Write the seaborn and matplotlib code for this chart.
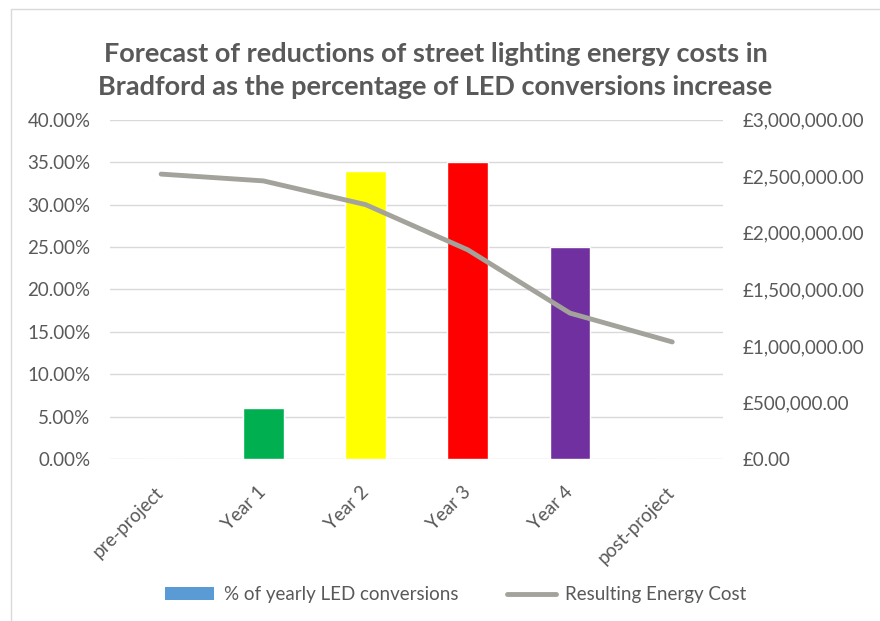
import pandas as pd
import matplotlib.pyplot as plt
import seaborn as sns
from matplotlib.patches import Patch, Rectangle
from matplotlib.lines import Line2D
from matplotlib.ticker import FuncFormatter

categories = ['pre-project', 'Year 1', 'Year 2', 'Year 3', 'Year 4', 'post-project']
led_pct = [0.0, 6.0, 34.0, 35.0, 25.0, 0.0]
energy_cost = [2520000, 2460000, 2250000, 1850000, 1290000, 1035000]
bar_colors = ['#5B9BD5', '#00B050', '#FFFF00', '#FF0000', '#7030A0', '#5B9BD5']

df = pd.DataFrame({'stage': categories, 'pct': led_pct, 'cost': energy_cost})

sns.set_style('white')
plt.rcParams['font.family'] = ['Lato', 'DejaVu Sans']
text_col = '#595959'
line_col = '#A3A39B'
fs = 13.5

fig = plt.figure(figsize=(8.8, 6.21), dpi=100)
ax = fig.add_axes([0.125, 0.261, 0.697, 0.546])

sns.barplot(data=df, x='stage', y='pct', hue='stage', palette=bar_colors,
            width=0.4, saturation=1, legend=False, ax=ax)
ax.set_ylim(0, 40)
ax.set_yticks(range(0, 41, 5))
ax.yaxis.set_major_formatter(FuncFormatter(lambda v, p: f'{v:.2f}%'))
ax.grid(axis='y', color='#D9D9D9', linewidth=1)
ax.set_axisbelow(True)
ax.set_xlabel('')
ax.set_ylabel('')
ax.set_xlim(-0.5, 5.5)
for s in ax.spines.values():
    s.set_visible(False)

ax2 = ax.twinx()
sns.lineplot(x=list(range(len(categories))), y=energy_cost, color=line_col,
             linewidth=3.5, ax=ax2)
ax2.set_ylim(0, 3000000)
ax2.set_yticks(range(0, 3000001, 500000))
ax2.yaxis.set_major_formatter(FuncFormatter(lambda v, p: f'£{v:,.2f}'))
for s in ax2.spines.values():
    s.set_visible(False)
ax2.set_xlim(-0.5, 5.5)

ax.tick_params(axis='y', length=0, labelsize=fs, labelcolor=text_col, pad=14)
ax.tick_params(axis='x', length=0, labelsize=fs, labelcolor=text_col, pad=22)
ax2.tick_params(axis='y', length=0, labelsize=fs, labelcolor=text_col, pad=14)
plt.setp(ax.get_xticklabels(), rotation=45, ha='right', va='center',
         rotation_mode='anchor')

fig.suptitle('Forecast of reductions of street lighting energy costs in\n'
             'Bradford as the percentage of LED conversions increase',
             x=0.495, y=0.932, fontsize=19.5, fontweight='bold', color=text_col,
             linespacing=1.45)

handles = [Patch(facecolor='#5B9BD5', edgecolor='none'),
           Line2D([0], [0], color=line_col, linewidth=3.5)]
fig.legend(handles, ['% of yearly LED conversions', 'Resulting Energy Cost'],
           loc='center', bbox_to_anchor=(0.518, 0.042), ncol=2, frameon=False,
           fontsize=fs, labelcolor=text_col, columnspacing=2.6,
           handlelength=2.6, handletextpad=0.5)

fig.patches.append(Rectangle((0.012, -0.01), 1.0, 0.996, transform=fig.transFigure,
                             fill=False, edgecolor='#D9D9D9', linewidth=1))

fig.savefig('out.png', dpi=100)
